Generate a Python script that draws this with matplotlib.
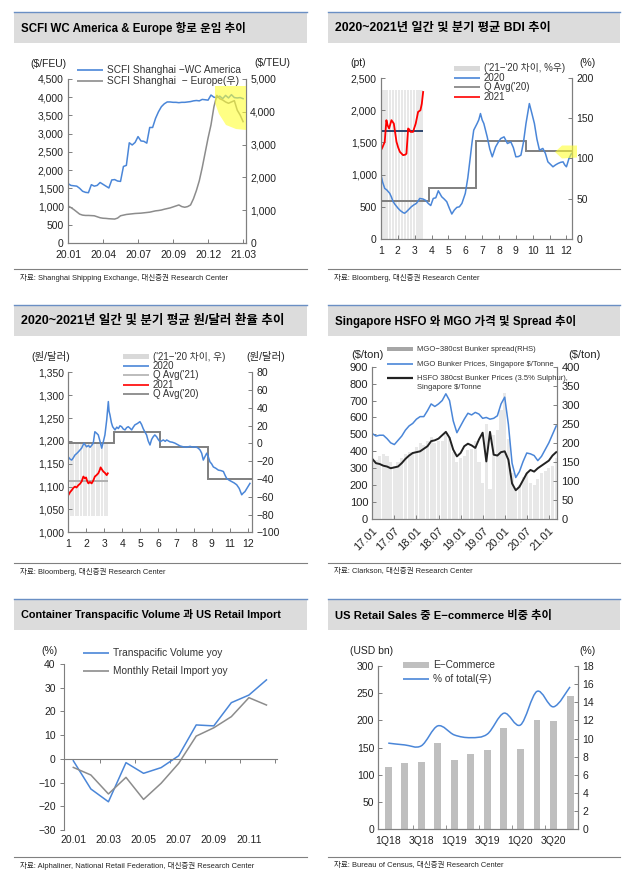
import numpy as np
import matplotlib
matplotlib.use('Agg')
import matplotlib.pyplot as plt
from matplotlib.patches import Rectangle, Polygon, PathPatch
from matplotlib.path import Path

plt.rcParams['font.family'] = ['Liberation Sans', 'Noto Sans CJK KR']
plt.rcParams['axes.unicode_minus'] = True

W, H = 640, 880
BLUE = '#4a86d8'
GRAY = '#8c8c8c'
DGRAY = '#7f7f7f'
LGRAY = '#b0b0b0'
RED = '#ff0000'
NAVY = '#1f3864'
SPINE = '#7f7f7f'
TXT = '#222222'

# ---------------- data ----------------
# panel 1: SCFI weekly, 20.01 ~ 21.03
scfi_ticks = ['20.01', '20.04', '20.07', '20.09', '20.12', '21.03']
scfi_wc = [1630, 1580, 1570, 1560, 1500, 1420, 1390, 1380, 1600, 1560, 1580, 1660, 1610,
           1560, 1510, 1730, 1740, 1700, 1690, 2100, 2130, 2750, 2690, 2760, 2920, 2800,
           2790, 2740, 3170, 3170, 3420, 3600, 3740, 3820, 3870, 3870, 3860, 3860, 3850,
           3860, 3860, 3870, 3880, 3900, 3910, 3900, 3940, 3930, 3920, 4060, 4000, 3990,
           4030, 3960, 4050, 3980, 4070, 3990, 3980, 3990, 3960]
scfi_eu = [1130, 1080, 1020, 950, 880, 850, 840, 840, 835, 830, 800, 770, 755, 750, 740,
           735, 730, 760, 830, 850, 870, 880, 890, 900, 905, 910, 920, 930, 940, 960, 980,
           990, 1005, 1030, 1050, 1070, 1100, 1130, 1160, 1110, 1090, 1110, 1160, 1350,
           1600, 1900, 2300, 2750, 3200, 3600, 4150, 4500, 4400, 4360, 4300, 4260, 4300,
           4340, 4050, 3900, 3700]

# panel 2: BDI (month position, value)
bdi20_m = [1.0, 1.1, 1.22, 1.35, 1.52, 1.62, 1.72, 1.85, 2.02, 2.15, 2.31, 2.4, 2.51, 2.65,
           2.8, 2.95, 3.1, 3.2, 3.3, 3.5, 3.65, 3.8, 3.95, 4.1, 4.25, 4.4, 4.6, 4.75, 4.9,
           5.05, 5.2, 5.35, 5.5, 5.65, 5.8, 6.0, 6.15, 6.3, 6.4, 6.5, 6.7, 6.8, 6.9, 7.0,
           7.1, 7.3, 7.45, 7.6, 7.8, 7.95, 8.1, 8.3, 8.5, 8.7, 8.85, 9.0, 9.15, 9.3, 9.45,
           9.6, 9.8, 9.95, 10.1, 10.25, 10.4, 10.6, 10.75, 10.9, 11.05, 11.2, 11.35, 11.5,
           11.65, 11.8, 11.9, 12.0, 12.15, 12.3]
bdi20 = [990, 880, 786, 760, 708, 650, 579, 530, 475, 440, 410, 400, 423, 460, 501, 530,
         553, 590, 630, 620, 600, 553, 520, 630, 640, 749, 656, 620, 579, 480, 388, 450,
         491, 500, 553, 708, 950, 1276, 1500, 1690, 1793, 1850, 1948, 1850, 1793, 1586,
         1400, 1276, 1431, 1500, 1560, 1586, 1483, 1508, 1420, 1276, 1280, 1302, 1500,
         1793, 2103, 1950, 1793, 1550, 1380, 1406, 1330, 1198, 1160, 1121, 1150, 1173,
         1190, 1198, 1150, 1121, 1250, 1328]
bdi21_m = [1.0, 1.08, 1.22, 1.32, 1.4, 1.48, 1.62, 1.76, 1.92, 2.02, 2.12, 2.31, 2.45,
           2.51, 2.61, 2.68, 2.75, 2.9, 3.06, 3.2, 3.34, 3.42, 3.5]
bdi21 = [1380, 1420, 1508, 1845, 1760, 1716, 1845, 1793, 1508, 1420, 1353, 1302, 1310,
         1328, 1716, 1700, 1663, 1663, 1793, 1973, 2000, 2100, 2283]
bdi_q20_edges = [1.0, 3.85, 6.66, 9.59, 12.33]
bdi_q20 = [590, 786, 1524, 1364]
bdi_q21 = 1674
bdi_diff = [185, 185, 185, 185, 185, 185, 185, 185, 185, 185, 185, 185, 185, 185,
            185, 185, 185, 185, 185, 185, 185, 185, 185, 185, 185, 185, 185, 185]

# panel 3: KRW/USD (tick position, value)
fx_labels = ['1', '2', '3', '4', '5', '6', '7', '8', '9', '11', '12']
fx20_p = [1.0, 1.1, 1.19, 1.28, 1.37, 1.46, 1.56, 1.65, 1.74, 1.87, 2.02, 2.12, 2.21,
          2.3, 2.39, 2.48, 2.57, 2.67, 2.76, 2.86, 2.95, 3.04, 3.14, 3.23, 3.27, 3.32,
          3.4, 3.47, 3.6, 3.7, 3.79, 3.88, 3.97, 4.06, 4.16, 4.25, 4.34, 4.43, 4.53, 4.62,
          4.71, 4.85, 4.99, 5.08, 5.17, 5.26, 5.36, 5.45, 5.55, 5.64, 5.73, 5.82, 5.92,
          6.01, 6.11, 6.2, 6.29, 6.4, 6.48, 6.57, 6.66, 6.8, 6.94, 7.08, 7.22, 7.4, 7.59,
          7.78, 7.96, 8.1, 8.24, 8.34, 8.43, 8.52, 8.62, 8.71, 8.8, 8.89, 8.98, 9.08,
          9.22, 9.36, 9.5, 9.64, 9.73, 9.82, 9.96, 10.1, 10.24, 10.38, 10.52, 10.66,
          10.75, 10.84, 10.98, 11.12]
fx20 = [1165, 1160, 1158, 1163, 1169, 1172, 1176, 1180, 1184, 1195, 1187, 1190, 1186,
        1190, 1195, 1220, 1217, 1213, 1200, 1184, 1198, 1213, 1246, 1286, 1265, 1257,
        1240, 1231, 1224, 1230, 1227, 1233, 1231, 1226, 1224, 1229, 1231, 1228, 1224,
        1230, 1235, 1238, 1242, 1236, 1227, 1220, 1213, 1200, 1191, 1203, 1209, 1213,
        1209, 1203, 1198, 1200, 1202, 1199, 1202, 1200, 1198, 1197, 1195, 1192, 1189,
        1187, 1186, 1188, 1186, 1187, 1184, 1180, 1173, 1158, 1166, 1173, 1165, 1154,
        1150, 1143, 1140, 1136, 1135, 1133, 1125, 1118, 1114, 1111, 1108, 1104, 1096,
        1082, 1086, 1089, 1098, 1107]
fx21_p = [1.0, 1.1, 1.19, 1.28, 1.37, 1.46, 1.56, 1.65, 1.74, 1.84, 1.92, 1.99, 2.05,
          2.12, 2.2, 2.3, 2.39, 2.48, 2.57, 2.67, 2.74, 2.8, 2.88, 2.95, 3.04, 3.14, 3.2]
fx21 = [1081, 1088, 1092, 1097, 1100, 1098, 1103, 1106, 1111, 1122, 1118, 1120, 1112,
        1107, 1110, 1107, 1113, 1122, 1125, 1129, 1135, 1142, 1137, 1133, 1130, 1125,
        1129]
fx_q20_edges = [1.0, 3.55, 6.11, 8.8, 11.25]
fx_q20 = [1195, 1220, 1187, 1117]
fx_q21_edges = [1.0, 3.2]
fx_q21 = [1112]
fx_diff = [-82, -82, -82, -82, -82, -82, -82, -82, -82, -82, -82, -82, -82, -82,
           -82, -82, -82, -82, -82, -82, -82, -82, -82, -82, -82]

# panel 4: Singapore bunker prices, monthly 17.01 ~ 21.03
bunker_ticks = ['17.01', '17.07', '18.01', '18.07', '19.01', '19.07', '20.01', '20.07', '21.01']
mgo = [505, 490, 495, 495, 475, 450, 440, 465, 490, 525, 550, 565, 590, 605, 605, 640,
       680, 665, 680, 700, 740, 700, 580, 510, 550, 590, 625, 615, 630, 620, 595, 600,
       590, 595, 610, 680, 720, 560, 330, 245, 280, 340, 390, 385, 375, 345, 370, 410,
       450, 500, 550]
hsfo = [355, 330, 325, 315, 310, 300, 305, 310, 330, 355, 375, 390, 395, 400, 415, 430,
        460, 465, 475, 495, 515, 480, 410, 370, 390, 430, 445, 435, 420, 470, 510, 340,
        515, 380, 375, 395, 400, 350, 210, 170, 190, 230, 270, 290, 280, 300, 315, 330,
        345, 375, 395]
spread = [150, 155, 165, 170, 165, 150, 140, 150, 160, 170, 175, 175, 190, 200, 195, 205,
          215, 200, 205, 205, 225, 215, 175, 150, 160, 165, 180, 185, 205, 150, 95, 250,
          80, 220, 235, 285, 330, 210, 120, 75, 90, 110, 120, 95, 90, 105, 120, 125, 135,
          140, 160]

# panel 5: Transpacific volume vs US retail import, yoy %
tp_months = ['20.01', '20.02', '20.03', '20.04', '20.05', '20.06', '20.07', '20.08',
             '20.09', '20.10', '20.11', '20.12']
tp_volume = [-0.8, -12.7, -18.1, -1.6, -6.1, -3.7, 1.3, 14.3, 13.9, 23.7, 26.9, 33.3]
retail_import = [-3.6, -6.8, -14.8, -7.8, -17.1, -10.3, -1.9, 9.6, 13.1, 17.8, 25.8, 22.7]

# panel 6: US e-commerce sales
ec_quarters = ['1Q18', '2Q18', '3Q18', '4Q18', '1Q19', '2Q19', '3Q19', '4Q19', '1Q20',
               '2Q20', '3Q20', '4Q20']
ec_sales = [115, 122, 123, 159, 128, 139, 145, 186, 147, 200, 199, 245]
ec_share = [9.5, 9.3, 9.2, 11.4, 10.4, 10.1, 10.5, 12.8, 11.5, 15.2, 13.5, 15.7]

# ---------------- figure ----------------
fig = plt.figure(figsize=(6.4, 8.8), dpi=100)


def place(l, t, r, b):
    return fig.add_axes([l / W, 1 - b / H, (r - l) / W, (b - t) / H])


def style(ax, top=False, right=True):
    for s in ax.spines.values():
        s.set_color(SPINE)
        s.set_linewidth(0.8)
    ax.spines['top'].set_visible(top)
    ax.spines['right'].set_visible(right)
    ax.tick_params(direction='in', length=3, width=0.7, color=SPINE,
                   labelsize=7.5, labelcolor=TXT, pad=3)
    ax.tick_params(axis='x', pad=5)


def comma(vals):
    return [f'{v:,}'.replace('-', '\u2212') for v in vals]


ov = fig.add_axes([0, 0, 1, 1], zorder=10)
ov.set_xlim(0, W)
ov.set_ylim(H, 0)
ov.axis('off')


def header(x0, x1, ytop, ybot, title, src, fs):
    ov.add_patch(Rectangle((x0, ytop), x1 - x0, 31, color='#dcdcdc', lw=0))
    ov.plot([x0, x1], [ytop, ytop], color='#6a8fc4', lw=1.0)
    ov.text(x0 + 7, ytop + 16, title, fontsize=fs, fontweight='bold', va='center')
    ov.plot([x0, x1], [ybot, ybot], color='#808080', lw=0.8)
    ov.text(x0 + 6, ybot + 8.5, src, fontsize=5.4, va='center', color='#222')


def leg_line(x, y, color, label, lw=1.2, fs=7.3):
    ov.plot([x, x + 26], [y, y], color=color, lw=lw, solid_capstyle='butt')
    ov.text(x + 30, y, label, va='center', fontsize=fs, color='#333')


def leg_patch(x, y, color, label, h=5, fs=7.3):
    ov.add_patch(Rectangle((x, y - h / 2), 26, h, color=color, lw=0))
    ov.text(x + 30, y, label, va='center', fontsize=fs, color='#333')


def unit(x, y, s, fs=7.5):
    ov.text(x, y, s, ha='center', va='center', fontsize=fs, color=TXT)


header(14, 307, 12, 269, 'SCFI WC America & Europe 항로 운임 추이',
       '자료: Shanghai Shipping Exchange, 대신증권 Research Center', 8.3)
header(328, 620, 12, 269, '2020~2021년 일간 및 분기 평균 BDI 추이',
       '자료: Bloomberg, 대신증권 Research Center', 8.8)
header(14, 307, 305, 563, '2020~2021년 일간 및 분기 평균 원/달러 환율 추이',
       '자료: Bloomberg, 대신증권 Research Center', 9.0)
header(328, 620, 305, 563, 'Singapore HSFO 와 MGO 가격 및 Spread 추이',
       '자료: Clarkson, 대신증권 Research Center', 8.3)
header(14, 307, 599, 857, 'Container Transpacific Volume 과 US Retail Import',
       '자료: Alphaliner, National Retail Federation, 대신증권 Research Center', 7.8)
header(328, 620, 599, 857, 'US Retail Sales 중 E−commerce 비중 추이',
       '자료: Bureau of Census, 대신증권 Research Center', 8.1)

# ---- panel 1 ----
ax = place(68, 79, 246, 243)
ax2 = ax.twinx()
style(ax)
style(ax2)
ax.plot(np.arange(len(scfi_wc)), scfi_wc, color=BLUE, lw=1.1)
ax2.plot(np.arange(len(scfi_eu)), scfi_eu, color=GRAY, lw=1.1)
ax.set_xlim(0, 61)
ax.set_ylim(0, 4500)
ax2.set_ylim(0, 5000)
yt = list(range(0, 4501, 500))
ax.set_yticks(yt, comma(yt))
yt2 = list(range(0, 5001, 1000))
ax2.set_yticks(yt2, comma(yt2))
ax.set_xticks([0, 12, 24, 36, 48, 60], scfi_ticks)
unit(48, 64, '($/FEU)')
unit(272, 63, '($/TEU)')
leg_line(77, 70, BLUE, 'SCFI Shanghai \u2212WC America')
leg_line(77, 81, GRAY, 'SCFI Shanghai  \u2212 Europe(우)')
ov.add_patch(Polygon([(215, 86), (246, 86), (246, 130), (236, 129), (226, 125),
                      (219, 114), (215, 103)], closed=True, color='#ffff33', alpha=0.6, lw=0))

# ---- panel 2 ----
ax = place(381, 78, 572, 239)
ax2 = ax.twinx()
ax.set_zorder(ax2.get_zorder() + 1)
ax.patch.set_visible(False)
style(ax)
style(ax2)
ax2.bar(1.03 + 0.09 * np.arange(len(bdi_diff)), bdi_diff, width=0.07,
        color='#e8e8e8', lw=0)
ax.stairs(bdi_q20, bdi_q20_edges, baseline=None, color=DGRAY, lw=1.4)
ax.hlines(bdi_q21, 1.0, 3.5, color=NAVY, lw=1.3)
ax.plot(bdi20_m, bdi20, color=BLUE, lw=1.1)
ax.plot(bdi21_m, bdi21, color=RED, lw=1.3)
ax.set_xlim(1, 12.33)
ax.set_ylim(0, 2500)
ax2.set_ylim(0, 200)
yt = list(range(0, 2501, 500))
ax.set_yticks(yt, comma(yt))
ax2.set_yticks([0, 50, 100, 150, 200])
ax.set_xticks(range(1, 13))
unit(358, 63, '(pt)')
unit(588, 63, '(%)')
leg_patch(454, 68.3, '#d9d9d9', "('21\u2212'20 차이, %우)", fs=7)
leg_line(454, 77.7, BLUE, '2020', fs=7)
leg_line(454, 87.3, DGRAY, "Q Avg('20)", fs=7)
leg_line(454, 96.7, RED, '2021', fs=7)
ov.add_patch(Polygon([(555, 152), (562, 145.5), (577, 145.5), (577, 157.5), (562, 158.5)],
                     closed=True, color='#ffff33', alpha=0.6, lw=0))

# ---- panel 3 ----
ax = place(68.3, 372.3, 252.3, 532.3)
ax2 = ax.twinx()
ax.set_zorder(ax2.get_zorder() + 1)
ax.patch.set_visible(False)
style(ax)
style(ax2)
ax2.bar(1.03 + 0.09 * np.arange(len(fx_diff)), fx_diff, width=0.07,
        color='#e8e8e8', lw=0)
ax.stairs(fx_q20, fx_q20_edges, baseline=None, color=DGRAY, lw=1.4)
ax.stairs(fx_q21, fx_q21_edges, baseline=None, color=LGRAY, lw=1.4)
ax.plot(fx20_p, fx20, color=BLUE, lw=1.1)
ax.plot(fx21_p, fx21, color=RED, lw=1.3)
ax.set_xlim(1, 11.25)
ax.set_ylim(1000, 1350)
ax2.set_ylim(-100, 80)
yt = list(range(1000, 1351, 50))
ax.set_yticks(yt, comma(yt))
yt2 = list(range(-100, 81, 20))
ax2.set_yticks(yt2, comma(yt2))
ax.set_xticks(range(1, 12), fx_labels)
unit(51, 357, '(원/달러)')
unit(266, 357, '(원/달러)')
leg_patch(123, 356.7, '#d9d9d9', "('21\u2212'20 차이, 우)", fs=7)
leg_line(123, 366, BLUE, '2020', fs=7)
leg_line(123, 375.3, LGRAY, "Q Avg('21)", fs=7)
leg_line(123, 384.7, RED, '2021', fs=7)
leg_line(123, 394.3, DGRAY, "Q Avg('20)", fs=7)

# ---- panel 4 ----
ax = place(372.3, 366.7, 557.3, 519)
ax2 = ax.twinx()
ax.set_zorder(ax2.get_zorder() + 1)
ax.patch.set_visible(False)
style(ax)
style(ax2)
mx = np.arange(len(mgo))
ax2.bar(mx, spread, width=0.85, color='#e8e8e8', lw=0)
ax.plot(mx, mgo, color=BLUE, lw=1.1)
ax.plot(mx, hsfo, color='#222222', lw=1.4)
ax.set_xlim(0, 50.3)
ax.set_ylim(0, 900)
ax2.set_ylim(0, 400)
ax.set_yticks(range(0, 901, 100))
ax2.set_yticks(range(0, 401, 50))
ax.tick_params(axis='y', labelsize=8)
ax2.tick_params(axis='y', labelsize=8)
ax.set_xticks(range(0, 49, 6), bunker_ticks, rotation=45, ha='right',
              rotation_mode='anchor', fontsize=8)
unit(367, 355, '($/ton)', fs=8)
unit(584, 355, '($/ton)', fs=8)
leg_patch(387, 349.3, '#a6a6a6', 'MGO\u2212380cst Bunker spread(RHS)', h=4, fs=5.5)
leg_line(387, 364, BLUE, 'MGO Bunker Prices, Singapore $/Tonne', fs=5.5)
leg_line(387, 378.3, '#222222', 'HSFO 380cst Bunker Prices (3.5% Sulphur),', lw=1.6, fs=5.5)
ov.text(417, 387.3, 'Singapore $/Tonne', va='center', fontsize=5.5, color='#333')

# ---- panel 5 ----
ax = place(64, 664, 277, 830)
style(ax, right=False)
ax.spines['bottom'].set_position(('data', 0))
ax.tick_params(direction='out')
x5 = np.arange(len(tp_volume))
ax.plot(x5, tp_volume, color=BLUE, lw=1.1)
ax.plot(x5, retail_import, color=GRAY, lw=1.1)
ax.set_xlim(-0.53, 11.6)
ax.set_ylim(-30, 40)
yt = list(range(-30, 41, 10))
ax.set_yticks(yt, comma(yt))
ax.set_xticks([1.5, 3.5, 5.5, 7.5, 9.5, 11.5], [])
for i in range(0, 12, 2):
    ax.text(x5[i], -0.06, tp_months[i], transform=ax.get_xaxis_transform(),
            ha='center', va='center', fontsize=7.5, color=TXT)
unit(50, 651, '(%)')
leg_line(83, 653.3, BLUE, 'Transpacific Volume yoy')
leg_line(83, 670.7, GRAY, 'Monthly Retail Import yoy')

# ---- panel 6 ----
ax = place(378.3, 666, 578.3, 829.3)
ax2 = ax.twinx()
style(ax)
style(ax2)
x6 = np.arange(len(ec_sales))
ax.bar(x6, ec_sales, width=0.42, color='#bfbfbf', lw=0)
# smooth line (Excel style) through the quarterly points
pts = np.column_stack([x6, ec_share]).astype(float)
verts = [pts[0]]
codes = [Path.MOVETO]
for i in range(len(pts) - 1):
    p0 = pts[i - 1] if i > 0 else pts[i]
    p1, p2 = pts[i], pts[i + 1]
    p3 = pts[i + 2] if i + 2 < len(pts) else pts[i + 1]
    verts += [p1 + (p2 - p0) / 6, p2 - (p3 - p1) / 6, p2]
    codes += [Path.CURVE4] * 3
ax2.add_patch(PathPatch(Path(verts, codes), fill=False, edgecolor=BLUE, lw=1.1))
ax.set_xlim(-0.6, 11.5)
ax.set_ylim(0, 300)
ax2.set_ylim(0, 18)
ax.set_yticks(range(0, 301, 50))
ax2.set_yticks(range(0, 19, 2))
ax.set_xticks(x6[::2], ec_quarters[::2])
ax.tick_params(axis='x', length=0)
ax.set_xticks([1.5, 3.5, 5.5, 7.5, 9.5], minor=True)
ax.tick_params(axis='x', which='minor', direction='in', length=3, color=SPINE)
unit(372, 651, '(USD bn)')
unit(588, 651, '(%)')
leg_patch(403, 665, '#bfbfbf', 'E\u2212Commerce', h=6)
leg_line(403, 679.3, BLUE, '% of total(우)')

fig.savefig('out.png', dpi=100)
